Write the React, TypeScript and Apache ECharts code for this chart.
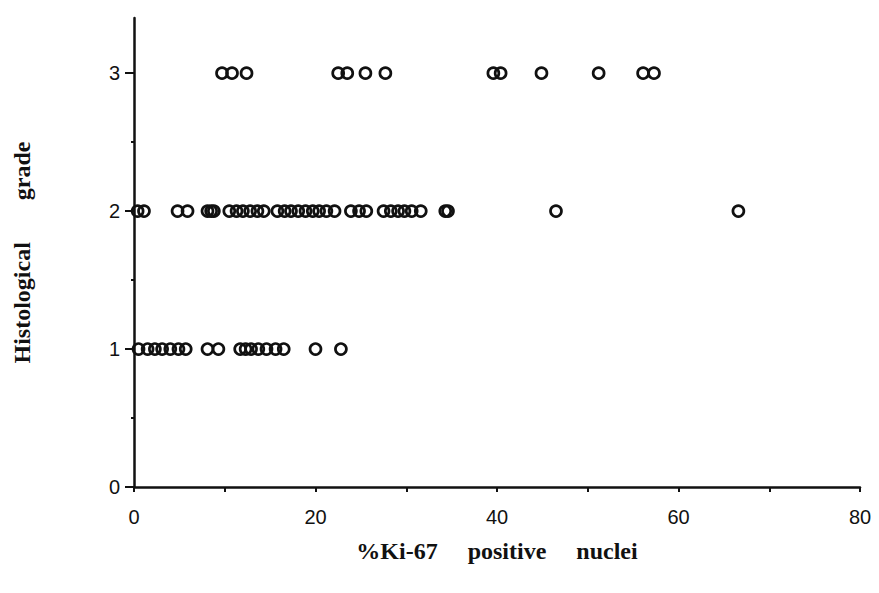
import React, { useEffect, useRef } from "react";
import * as echarts from "echarts";

const grade1Ki67 = [0.5, 1.5, 2.3, 3.1, 4.0, 4.9, 5.7, 8.1, 9.3, 11.7, 12.3, 12.9, 13.7, 14.6, 15.6, 16.5, 20.0, 22.8];
const grade2Ki67 = [0.4, 1.1, 4.8, 5.9, 8.1, 8.5, 8.8, 10.5, 11.3, 12.0, 12.8, 13.6, 14.3, 15.8, 16.6, 17.3, 18.1, 18.9, 19.7, 20.4, 21.2, 22.1, 23.9, 24.8, 25.6, 27.5, 28.3, 29.1, 29.8, 30.6, 31.6, 34.3, 34.6, 46.5, 66.6];
const grade3Ki67 = [9.7, 10.8, 12.4, 22.5, 23.5, 25.5, 27.7, 39.6, 40.4, 44.9, 51.2, 56.1, 57.3];
const grades = [1, 2, 3];
const yMajorTicks = [0, 1, 2, 3];
const yMinorTicks = [0.5, 1.5, 2.5];

const xTitle = "%Ki-67     positive     nuclei";
const yTitle = "Histological       grade";

export default function App() {
  const ref = useRef<HTMLDivElement>(null);
  useEffect(() => {
    if (!ref.current) return;
    const chart = echarts.init(ref.current, null, { renderer: "svg" });
    const groups = [grade1Ki67, grade2Ki67, grade3Ki67];
    const tickFont = { fontFamily: "Liberation Sans", fontSize: 20, color: "#111" };
    const titleFont = { fontFamily: "Liberation Serif", fontSize: 24, fontWeight: "bold" as const, color: "#111" };
    chart.setOption({
      animation: false,
      backgroundColor: "#fff",
      grid: { left: 134, right: 19, top: 18, bottom: 106 },
      xAxis: {
        type: "value",
        min: 0,
        max: 80,
        interval: 20,
        name: xTitle,
        nameLocation: "middle",
        nameGap: 52,
        nameTextStyle: titleFont,
        axisLine: { show: true, onZero: false, lineStyle: { color: "#111", width: 2.5 } },
        axisTick: { show: true, length: 5, lineStyle: { color: "#111", width: 2 } },
        minorTick: { show: true, splitNumber: 2, length: 5, lineStyle: { color: "#111", width: 2 } },
        axisLabel: { ...tickFont, margin: 20 },
        splitLine: { show: false },
      },
      yAxis: [
        {
          type: "value",
          min: 0,
          max: 3.4,
          name: yTitle,
          nameLocation: "middle",
          nameRotate: 90,
          nameGap: 100,
          nameTextStyle: titleFont,
          axisLine: { show: true, onZero: false, lineStyle: { color: "#111", width: 2.5 } },
          axisTick: { show: true, length: 9, customValues: yMajorTicks, lineStyle: { color: "#111", width: 2 } },
          axisLabel: { ...tickFont, margin: 14, customValues: yMajorTicks },
          splitLine: { show: false },
        },
        {
          type: "value",
          min: 0,
          max: 3.4,
          position: "left",
          axisLine: { show: false },
          axisTick: { show: true, length: 3, customValues: yMinorTicks, lineStyle: { color: "#111", width: 2 } },
          axisLabel: { show: false },
          splitLine: { show: false },
        },
      ],
      series: groups.map((xs, i) => ({
        type: "scatter",
        yAxisIndex: 0,
        symbol: "circle",
        symbolSize: 11,
        itemStyle: { color: "rgba(0,0,0,0)", borderColor: "#111", borderWidth: 2.7, opacity: 1 },
        data: xs.map((x) => [x, grades[i]]),
      })),
    });
    return () => chart.dispose();
  }, []);
  return <div ref={ref} style={{ position: "fixed", left: 0, top: 0, width: 879, height: 593, background: "#fff" }} />;
}
